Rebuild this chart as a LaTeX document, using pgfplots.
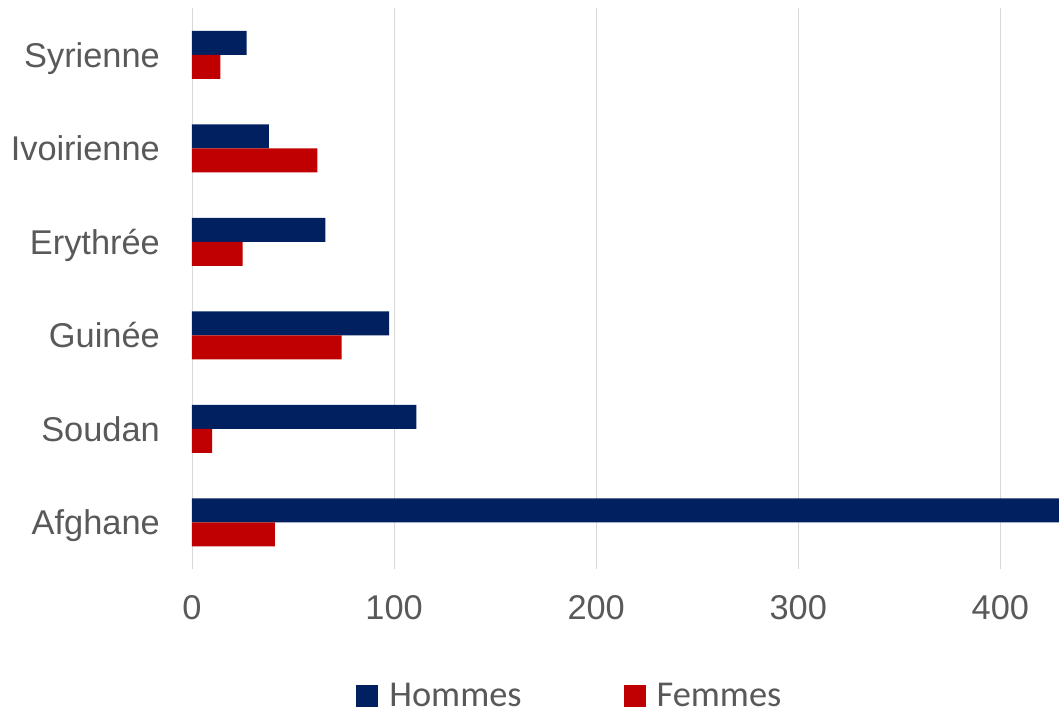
\documentclass[border=0pt]{standalone}
\usepackage{fontspec}
\setmainfont{Liberation Sans}
\newfontfamily\calibri{Carlito}
\usepackage{pgfplots}
\pgfplotsset{compat=1.18}
\definecolor{hommes}{HTML}{002060}
\definecolor{femmes}{HTML}{C00000}
\definecolor{txtgray}{HTML}{595959}
\definecolor{gridgray}{HTML}{D9D9D9}
\begin{document}
\begin{tikzpicture}
\path[use as bounding box] (-192bp,-142bp) rectangle (867bp,569bp);
\begin{axis}[
at={(0,0)}, anchor=south west,
scale only axis,
width=867bp, height=561bp,
xbar, bar width=24bp,
xmin=0, xmax=429,
ymin=-0.5, ymax=5.5,
enlargelimits=false,
axis line style={draw=none},
xtick={0,100,200,300,400},
ytick={0,1,2,3,4,5},
yticklabels={Afghane,Soudan,Guinée,Erythrée,Ivoirienne,Syrienne},
major tick length=0pt,
xmajorgrids,
grid style={gridgray, line width=0.8bp},
/pgf/number format/assume math mode=true,
ticklabel style={font=\fontsize{34.5}{40}\selectfont, text=txtgray, inner sep=0pt},
yticklabel style={anchor=base east, yshift=-12.5bp},
yticklabel shift=32bp,
xticklabel shift=26bp,
legend columns=2,
legend style={at={(0.441,-0.226)}, anchor=center, draw=none,
  font=\calibri\fontsize{36.5}{40}\selectfont, text=txtgray,
  /tikz/every even column/.append style={column sep=91bp},
  nodes={inner ysep=0bp, inner xsep=11bp}},
legend image code/.code={\fill[#1] (0bp,-11bp) rectangle (22bp,11bp);},
]
\addplot[fill=hommes, draw=none, bar shift=12bp] coordinates {
(480,0) (111,1) (97.5,2) (66,3) (38,4) (27,5)};
\addplot[fill=femmes, draw=none, bar shift=-12bp] coordinates {
(41,0) (10,1) (74,2) (25,3) (62,4) (14,5)};
\legend{Hommes,Femmes}
\end{axis}
\end{tikzpicture}
\end{document}
